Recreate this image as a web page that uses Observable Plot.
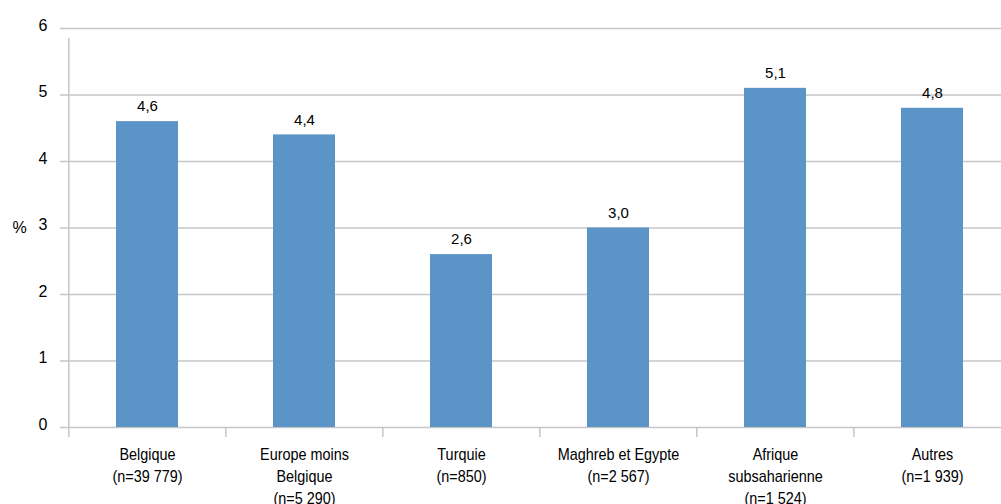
<!DOCTYPE html>
<html><head><meta charset="utf-8">
<script src="https://cdn.jsdelivr.net/npm/d3@7"></script>
<script src="https://cdn.jsdelivr.net/npm/@observablehq/plot@0.6"></script>
<style>
body{margin:0;background:#fff;}
</style></head><body><div id="chart"></div>
<script>
const categories = ["Belgique\n(n=39 779)", "Europe moins\nBelgique\n(n=5 290)", "Turquie\n(n=850)", "Maghreb et Egypte\n(n=2 567)", "Afrique\nsubsaharienne\n(n=1 524)", "Autres\n(n=1 939)"];
const values = [4.6, 4.4, 2.6, 3.0, 5.1, 4.8];
const yTicks = [0, 1, 2, 3, 4, 5, 6];
const data = categories.map((c, i) => ({cat: c, v: values[i]}));
const fmt = d => d.toFixed(1).replace(".", ",");
const step = (1011 - 67) / categories.length;
const chart = Plot.plot({
  width: 1001, height: 504,
  marginLeft: 67, marginTop: 28, marginBottom: 77, marginRight: 0,
  style: {fontFamily: '"Liberation Sans",Arial,sans-serif', fontSize: "15px", color: "#000", overflow: "visible"},
  x: {domain: categories, range: [67, 1011], paddingInner: 0.606, paddingOuter: 0.303, align: 0.5},
  y: {domain: [0, 6], ticks: yTicks},
  marks: [
    Plot.ruleY(yTicks, {stroke: "#c6c6c6", strokeWidth: 1.5, insetLeft: -7}),
    Plot.ruleX(categories, {x: d => d, y1: 0, y2: 0, dx: -step / 2, insetBottom: -10, stroke: "#c6c6c6", strokeWidth: 1.5}),
    Plot.ruleX([categories[0]], {x: d => d, y1: 0, y2: 6, dx: -step / 2, insetBottom: -10, stroke: "#c6c6c6", strokeWidth: 1.5}),
    Plot.barY(data, {x: "cat", y: "v", fill: "#5b94c6"}),
    Plot.text(data, {x: "cat", y: "v", text: d => fmt(d.v), dy: -15, fontSize: 15, fill: "#000"}),
    Plot.axisY(yTicks, {tickSize: 0, tickPadding: 20, fontSize: 16, dy: -3, label: null, tickFormat: d => d}),
    Plot.axisX({tickSize: 0, tickPadding: 17, fontSize: 16, lineHeight: 1.375, label: null, lineAnchor: "top"}),
    Plot.text(["%"], {frameAnchor: "left", dx: -55, fontSize: 16, fill: "#000"})
  ]
});
chart.querySelectorAll('g[aria-label="x-axis tick label"] text').forEach(t => {
  t.setAttribute("transform", (t.getAttribute("transform") || "") + " scale(0.9,1)");
});
document.getElementById("chart").appendChild(chart);
</script></body></html>
